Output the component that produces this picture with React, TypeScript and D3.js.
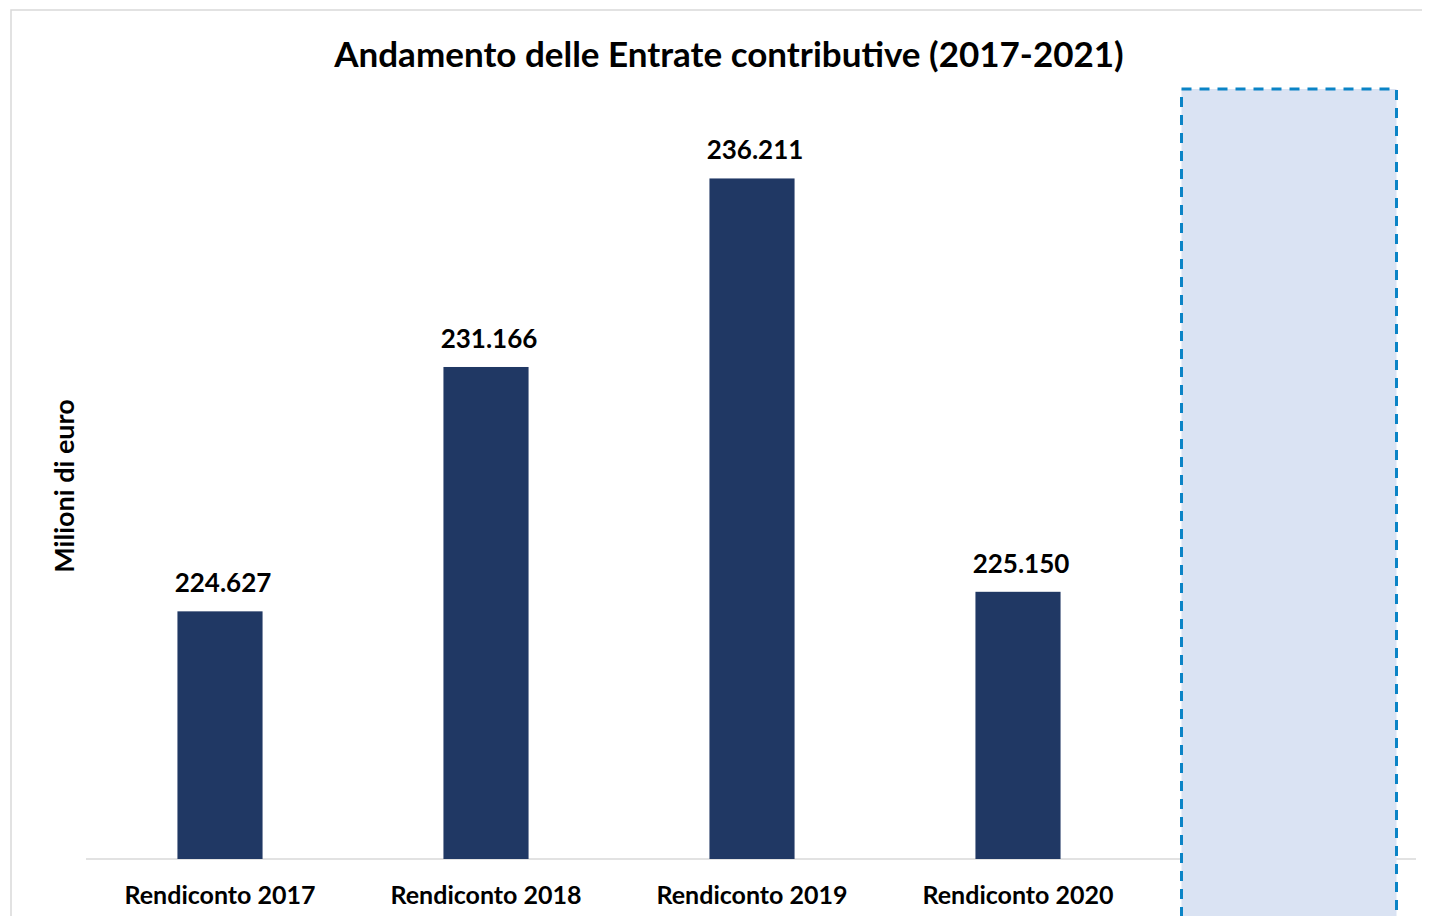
import React, { useRef, useEffect } from "react";
import * as d3 from "d3";

const categories = ["Rendiconto 2017", "Rendiconto 2018", "Rendiconto 2019", "Rendiconto 2020", ""];
const values = [224627, 231166, 236211, 225150];
const title = "Andamento delle Entrate contributive (2017-2021)";
const yLabel = "Milioni di euro";

const W = 1430;
const H = 924;
const FONT = "Lato, 'Open Sans', sans-serif";

export default function App() {
  const svgRef = useRef<SVGSVGElement>(null);

  useEffect(() => {
    if (!svgRef.current) return;
    const svg = d3.select(svgRef.current);
    svg.selectAll("*").remove();

    const left = 86, right = 1416, base = 859;

    const x = d3.scaleBand<string>().domain(categories.map((c, i) => c || `__${i}`)).range([left + 1, right + 1]).paddingInner(0.68).paddingOuter(0.34);
    // baseline sits at 218.000; top of the range chosen so bar heights match
    const y = d3.scaleLinear().domain([218000, 240000]).range([base, base - 22000 * 0.03737]);

    const it = d3.formatLocale({ decimal: ",", thousands: ".", grouping: [3], currency: ["€", ""] });
    const fmt = it.format(",d");

    // chart frame
    svg.append("rect").attr("x", 11).attr("y", 10).attr("width", 1440).attr("height", 940)
      .attr("fill", "#fff").attr("stroke", "#d9d9d9").attr("stroke-width", 1.5);

    svg.append("text").attr("x", 729).attr("y", 67).attr("text-anchor", "middle")
      .attr("font-family", FONT).attr("font-weight", 700).attr("font-size", 35)
      .attr("fill", "#000").text(title);

    svg.append("text").attr("transform", `translate(74,486) rotate(-90)`).attr("text-anchor", "middle")
      .attr("font-family", FONT).attr("font-weight", 700).attr("font-size", 27)
      .attr("fill", "#000").text(yLabel);

    // axis baseline
    svg.append("line").attr("x1", left).attr("x2", right).attr("y1", base).attr("y2", base)
      .attr("stroke", "#d9d9d9").attr("stroke-width", 1.5);

    const keys = x.domain();
    svg.append("g").selectAll("rect").data(values).join("rect")
      .attr("x", (_, i) => x(keys[i])!)
      .attr("width", x.bandwidth())
      .attr("y", (d) => y(d))
      .attr("height", (d) => base - y(d))
      .attr("fill", "#203864");

    svg.append("g").selectAll("text").data(values).join("text")
      .attr("x", (_, i) => x(keys[i])! + x.bandwidth() / 2 + 3)
      .attr("y", (d) => y(d) - 19)
      .attr("text-anchor", "middle")
      .attr("font-family", FONT).attr("font-weight", 700).attr("font-size", 26)
      .attr("fill", "#000").text((d) => fmt(d));

    svg.append("g").selectAll("text").data(categories.filter((c) => c)).join("text")
      .attr("x", (_, i) => x(keys[i])! + x.bandwidth() / 2)
      .attr("y", 904)
      .attr("text-anchor", "middle")
      .attr("font-family", FONT).attr("font-weight", 700).attr("font-size", 25)
      .attr("fill", "#000").text((d) => d);

    // highlighted placeholder for 2021
    const last = keys[keys.length - 1];
    const cx = x(last)! + x.bandwidth() / 2 + 5;
    svg.append("rect").attr("x", cx - 107.5).attr("y", 89).attr("width", 215).attr("height", 829)
      .attr("fill", "#dae3f3").attr("stroke", "#0b84c6").attr("stroke-width", 3)
      .attr("stroke-dasharray", "10 8");
  }, []);

  return (
    <div style={{ margin: -8, width: W, height: H, overflow: "hidden" }}>
      <svg ref={svgRef} width={W} height={H} style={{ display: "block" }}></svg>
    </div>
  );
}
